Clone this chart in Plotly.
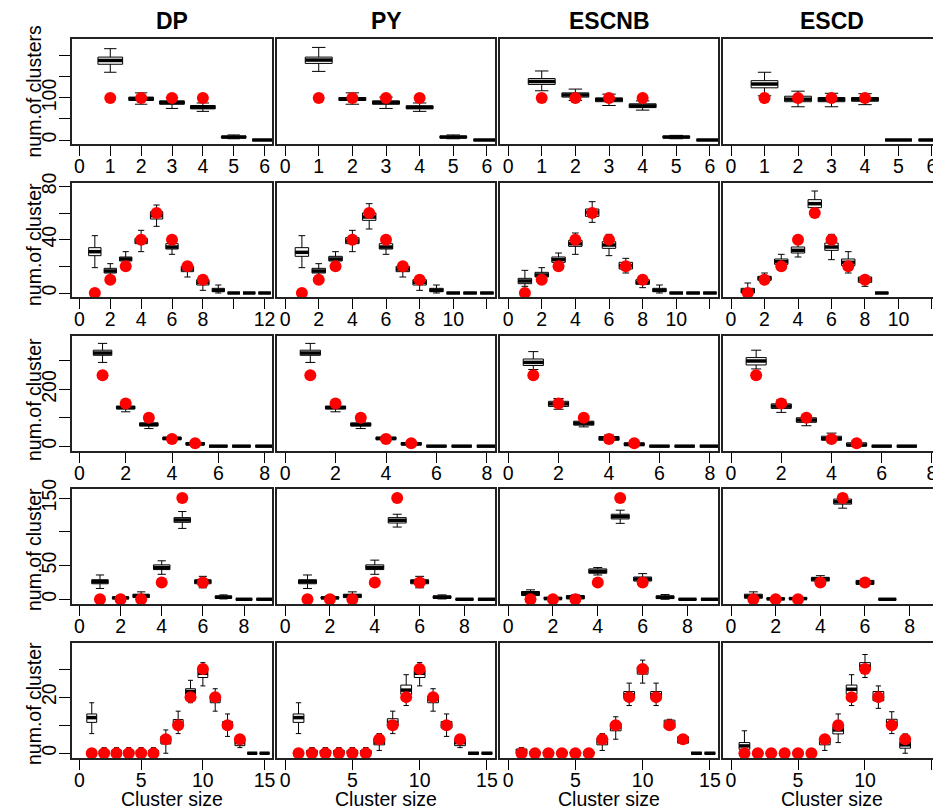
import plotly.graph_objects as go

methods = ["DP", "PY", "ESCNB", "ESCD"]
x_max = [6, 12, 8, 9, 15]

# true number of clusters for cluster size 1, 2, ... (red dots)
truth_r1 = [100, 100, 100, 100]
truth_r2 = [0, 10, 20, 40, 60, 40, 20, 10]
truth_r3 = [250, 150, 100, 25, 10]
truth_r4 = [0, 0, 0, 25, 150, 25]
truth_r5 = [0, 0, 0, 0, 0, 0, 5, 10, 20, 30, 20, 10, 5]

# box summaries per cluster size: (lower whisker, q1, median, q3, upper whisker)
dp_r1 = [(161, 180, 189, 197, 217), (85, 94, 98, 102, 112), (75, 85, 89, 93, 101),
         (68, 74, 78, 82, 88), (3, 5, 7, 9, 12), (0, 0, 0, 0, 0)]
py_r1 = [(163, 182, 190, 197, 220), (85, 94, 97, 101, 112), (75, 85, 89, 93, 102),
         (68, 74, 78, 81, 88), (3, 5, 7, 9, 12), (0, 0, 0, 0, 0)]
escnb_r1 = [(117, 132, 139, 146, 164), (94, 102, 107, 112, 121), (82, 91, 96, 100, 109),
            (71, 77, 81, 86, 93), (3, 5, 7, 9, 11), (0, 0, 0, 0, 0)]
escd_r1 = [(105, 124, 133, 141, 161), (79, 91, 97, 104, 116), (79, 91, 96, 101, 111),
           (84, 92, 97, 101, 110), (0, 0, 0, 0, 0), (0, 0, 0, 0, 0)]

dp_r2 = [(19, 28, 31, 34, 43), (13, 15, 16.5, 18.5, 22), (21, 24, 25.5, 27, 31),
         (31, 37, 39, 41, 47), (50, 55.5, 58, 61, 66), (29, 33, 34.5, 37, 40),
         (12, 16, 18, 20, 21), (2, 6, 8, 10, 12), (0, 1, 2, 3.5, 6),
         (0, 0, 0, 0, 0), (0, 0, 0, 0, 0), (0, 0, 0, 0, 0)]
py_r2 = [(19, 27.5, 30.5, 34, 43), (13, 15, 16.5, 18.5, 22), (21, 24, 25.5, 27.5, 31),
         (31, 37, 39, 41.5, 47), (48, 54.5, 57, 60, 67), (29, 33, 34.5, 37, 40),
         (12, 16, 18, 20, 21), (2, 6, 8, 10, 12), (0, 1, 2, 3.5, 6),
         (0, 0, 0, 0, 0), (0, 0, 0, 0, 0), (0, 0, 0, 0, 0)]
escnb_r2 = [(5, 7, 9, 11, 17), (10, 12, 13.5, 15.5, 19), (21, 23, 25, 27, 30),
            (29, 35, 37, 39.5, 45), (53, 57.5, 60.5, 63, 68.5), (28, 33.5, 36, 38.5, 44),
            (15, 18, 20.5, 23, 26), (4, 6.5, 8, 10, 12.5), (0, 1, 2, 3.5, 6),
            (0, 0, 0, 0, 0), (0, 0, 0, 0, 0), (0, 0, 0, 0, 0)]
escd_r2 = [(0, 0, 1.5, 3.5, 7.5), (8, 9.5, 11, 12.5, 15), (19.5, 21.5, 23.5, 25.5, 29),
           (27, 30, 32, 34.5, 37), (62, 64, 67, 70, 76.5), (25, 32, 34.5, 37.5, 44),
           (15, 20.5, 23, 25.5, 31), (5, 8, 10, 12, 13), (0, 0, 0, 0, 0)]

dp_r3 = [(295, 320, 328, 338, 362), (121, 131, 136, 141, 146), (62, 71, 76.5, 82, 88),
         (18, 23, 27, 32, 35), (1, 4, 8, 13, 16), (0, 0, 0, 0, 0), (0, 0, 0, 0, 0),
         (0, 0, 0, 0, 0)]
py_r3 = [(295, 320, 328, 338, 362), (121, 131, 136, 141, 146), (62, 71, 76, 82, 88),
         (18, 23, 27, 32, 35), (1, 4, 8, 13, 16), (0, 0, 0, 0, 0), (0, 0, 0, 0, 0),
         (0, 0, 0, 0, 0)]
escnb_r3 = [(270, 284, 295, 307, 333), (130, 140, 149, 158, 168), (68, 74, 81, 88, 95),
            (15, 21, 27, 34, 39), (0, 2, 6, 12, 15), (0, 0, 0, 0, 0), (0, 0, 0, 0, 0),
            (0, 0, 0, 0, 0)]
escd_r3 = [(272, 286, 300, 312, 338), (119, 133, 141, 149, 162), (72, 84, 92, 100, 109),
           (15, 21, 27, 35, 46), (0, 1, 4, 12, 15), (0, 0, 0, 0, 0), (0, 0, 0, 0, 0)]

dp_r4 = [(16, 23, 26, 29, 36), (0, 1, 2, 3.5, 5.5), (0, 2.5, 5, 7.5, 11),
         (37, 44, 47, 51, 57), (105, 114, 117.5, 121, 130), (17, 23, 26, 29, 34),
         (0.5, 1.5, 3, 5, 6.5), (0, 0, 0, 0, 0), (0, 0, 0, 0, 0)]
py_r4 = [(16, 23, 26, 29, 36), (0, 1, 2, 3.5, 5.5), (0, 2.5, 5, 7.5, 11),
         (37, 44, 47, 51, 58), (107, 113, 117, 121, 126), (17, 23, 26, 29, 34),
         (0.5, 1.5, 3, 5, 6.5), (0, 0, 0, 0, 0), (0, 0, 0, 0, 0)]
escnb_r4 = [(1.5, 5.5, 8.5, 11.5, 14), (0, 0, 1, 3, 4), (0, 0.5, 3, 5.5, 6.5),
            (36, 38.5, 41.5, 45, 47), (112.5, 119, 122.5, 126, 132), (25, 27, 30, 33, 38),
            (0, 1, 3, 5, 7), (0, 0, 0, 0, 0), (0, 0, 0, 0, 0)]
escd_r4 = [(0, 1.5, 4.5, 7.5, 11), (0, 0, 0.5, 2, 3), (0, 0, 1, 2.5, 4),
           (25, 27, 30, 32.5, 35), (135, 141, 144.5, 148.5, 155.5), (20, 22, 25, 28, 30),
           (0, 0, 0, 0, 0)]

dp_r5 = [(7, 11, 12.7, 14, 18), (0, 0, 0, 1, 2), (0, 0, 0, 1, 2), (0, 0, 0, 1, 2),
         (0, 0, 0, 1, 2), (0, 0, 0, 1, 2), (0, 3.3, 4.5, 6, 8.3), (7, 9.5, 10.7, 12, 15),
         (18, 21, 22, 23, 26), (24, 27, 28.5, 30.2, 32.3), (15, 18, 19.2, 20.5, 23),
         (6, 9, 10, 11.3, 14), (2, 2.7, 3.8, 5, 6), (0, 0, 0, 0, 0), (0, 0, 0, 0, 0)]
py_r5 = [(7, 11, 12.7, 14, 18), (0, 0, 0, 1, 2), (0, 0, 0, 1, 2), (0, 0, 0, 1, 2),
         (0, 0, 0, 1, 2), (0, 0, 0, 1, 2), (1, 3, 4, 5.3, 7), (7, 9.7, 11, 12.3, 15),
         (17, 21, 22.5, 24.3, 28), (24, 27, 28.5, 29.7, 32.3), (15, 18, 19.2, 20.4, 23),
         (6, 9, 10, 11.3, 14), (2, 2.7, 3.8, 5, 6), (0, 0, 0, 0, 0), (0, 0, 0, 0, 0)]
escnb_r5 = [(0, 0, 0.5, 1.5, 2), (0, 0, 0, 0.5, 1), (0, 0, 0, 0.5, 1), (0, 0, 0, 0.5, 1),
            (0, 0, 0, 0.5, 1), (0, 0, 0, 0.5, 1), (1, 3, 4.2, 5.3, 7), (5, 8, 9.3, 10.7, 13),
            (17, 19.6, 20.8, 22, 25), (25, 28.2, 29.7, 30.8, 33.2), (17, 19.6, 20.8, 22, 25),
            (8.5, 9, 10.4, 11.8, 12.1), (3.5, 3.6, 4.7, 5.9, 6), (0, 0, 0, 0, 0),
            (0, 0, 0, 0, 0)]
escd_r5 = [(0, 1.4, 2.6, 3.8, 8), (0, 0, 0, 0, 0), (0, 0, 0, 0, 0), (0, 0, 0, 0, 0),
           (0, 0, 0, 0, 0), (0, 0, 0, 0, 0), (1, 3, 4.2, 5.3, 6.5), (3.8, 6.9, 8.3, 9.5, 14),
           (17, 21, 22.8, 24.3, 28), (27, 29.7, 31, 32.3, 35.2), (16, 18.7, 20.2, 22, 24),
           (7, 9.5, 10.7, 12.1, 14.8), (0, 1.8, 3, 4.2, 6.9)]

y_ticks = [[0, 50, 100, 150, 200], [0, 20, 40, 60, 80], [0, 100, 200, 300],
           [0, 50, 100, 150], [0, 10, 20, 30]]
y_ticktext = [["0", "", "100", "", ""], ["0", "", "40", "", "80"], ["0", "", "200", ""],
              ["0", "50", "", "150"], ["0", "", "20", ""]]
y_label = ["num.of clusters", "num.of cluster", "num.of cluster", "num.of cluster",
           "num.of cluster"]

stats = {
    "DP": [dp_r1, dp_r2, dp_r3, dp_r4, dp_r5],
    "PY": [py_r1, py_r2, py_r3, py_r4, py_r5],
    "ESCNB": [escnb_r1, escnb_r2, escnb_r3, escnb_r4, escnb_r5],
    "ESCD": [escd_r1, escd_r2, escd_r3, escd_r4, escd_r5],
}
truth = [truth_r1, truth_r2, truth_r3, truth_r4, truth_r5]

# the page puts the figure 8px in from the top-left corner, so lay out in window pixels
OFF = 8
W, H = 941 - OFF, 811 - OFF
cols_px = [(72, 272), (277, 495), (500, 718), (723, 940)]
rows_px = [(39, 144), (183, 297), (336, 451), (489, 604), (643, 758)]
y_ranges = [[-9.5, 240], [-3, 82.5], [-17, 388], [-7, 163.4], [-1.7, 39.3]]
label_y = [91.5, 245, 400, 550, 704]


def px(v):
    return (v - OFF) / W


def py_(v):
    return 1 - (v - OFF) / H


FONT = "Liberation Sans, Arial, Helvetica, sans-serif"
fig = go.Figure()
layout = {}

for r in range(5):
    for c, m in enumerate(methods):
        k = r * 4 + c + 1
        xa = "x" if k == 1 else f"x{k}"
        ya = "y" if k == 1 else f"y{k}"
        s = stats[m][r]
        sizes = list(range(1, len(s) + 1))
        lo, q1, med, q3, hi = (list(v) for v in zip(*s))

        fig.add_trace(go.Box(
            x=sizes, q1=q1, median=med, q3=q3, lowerfence=lo, upperfence=hi,
            width=0.8, whiskerwidth=0.5, fillcolor="white", boxpoints=False,
            line=dict(color="black", width=1), showlegend=False, hoverinfo="skip",
            xaxis=xa, yaxis=ya))

        mx, my = [], []
        for xi, mi in zip(sizes, med):
            mx += [xi - 0.4, xi + 0.4, None]
            my += [mi, mi, None]
        fig.add_trace(go.Scatter(x=mx, y=my, mode="lines", line=dict(color="black", width=3.5),
                                 showlegend=False, hoverinfo="skip", xaxis=xa, yaxis=ya))

        t = truth[r]
        fig.add_trace(go.Scatter(x=list(range(1, len(t) + 1)), y=t, mode="markers",
                                 marker=dict(color="#ff0000", size=12),
                                 showlegend=False, xaxis=xa, yaxis=ya))

        n = x_max[r]
        step = 1 if n == 6 else (5 if n == 15 else 2)
        xt = list(range(0, n + 1, step))
        xtt = [str(v) for v in xt]
        if n == 12:
            if c == 0:
                xtt[xt.index(10)] = ""
            else:
                xtt[xt.index(12)] = ""

        x0, x1 = cols_px[c]
        top, bot = rows_px[r]
        layout["xaxis" if k == 1 else f"xaxis{k}"] = dict(
            domain=[px(x0), px(x1)], anchor=ya, range=[-0.04 * n, 1.04 * n],
            tickvals=xt, ticktext=xtt, ticks="outside", ticklen=10, tickwidth=1,
            tickcolor="black", ticklabelstandoff=-6, showline=True, mirror=True,
            linecolor="#222", linewidth=1.5, showgrid=False, zeroline=False, automargin=False,
            tickfont=dict(size=19.5, color="black", family=FONT))
        layout["yaxis" if k == 1 else f"yaxis{k}"] = dict(
            domain=[py_(bot), py_(top)], anchor=xa, range=y_ranges[r],
            tickvals=y_ticks[r], ticktext=y_ticktext[r],
            ticks="outside" if c == 0 else "", ticklen=11, tickwidth=1, tickcolor="black",
            ticklabelstandoff=-5, showticklabels=(c == 0), tickangle=-90, showline=True,
            mirror=True, linecolor="#222", linewidth=1.5, showgrid=False, zeroline=False,
            automargin=False, tickfont=dict(size=19.5, color="black", family=FONT))

annotations = []
for c, m in enumerate(methods):
    x0, x1 = cols_px[c]
    annotations.append(dict(text=f"<b>{m}</b>", x=px((x0 + x1) / 2), y=py_(21),
                            xref="paper", yref="paper", showarrow=False,
                            xanchor="center", yanchor="middle",
                            font=dict(size=23, color="black", family=FONT)))
    annotations.append(dict(text="Cluster size", x=px((x0 + x1) / 2), y=py_(799),
                            xref="paper", yref="paper", showarrow=False,
                            xanchor="center", yanchor="middle",
                            font=dict(size=19.5, color="black", family=FONT)))
for r in range(5):
    annotations.append(dict(text=y_label[r], x=px(34), y=py_(label_y[r]), textangle=-90,
                            xref="paper", yref="paper", showarrow=False,
                            xanchor="center", yanchor="middle",
                            font=dict(size=19.5, color="black", family=FONT)))

fig.update_layout(**layout)
fig.update_layout(template="none", width=W, height=H, margin=dict(l=0, r=0, t=0, b=0, pad=0),
                  plot_bgcolor="white", paper_bgcolor="white",
                  annotations=annotations, showlegend=False)

fig.write_html("out.html")
